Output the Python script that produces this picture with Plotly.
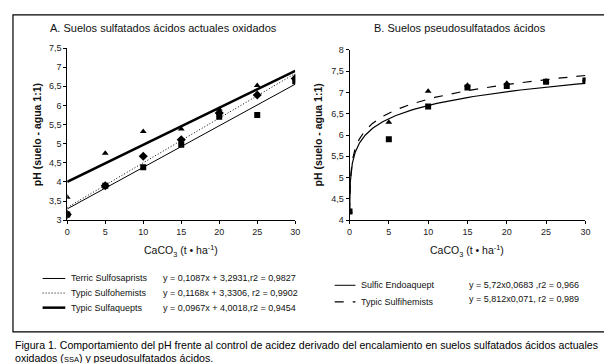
import numpy as np
import plotly.graph_objects as go

# ---------------- data ----------------
doses = [0, 5, 10, 15, 20, 25, 30]

# Panel A
terric_sulfosaprists = [3.15, 3.90, 4.38, 4.97, 5.70, 5.75, 6.63]
typic_sulfohemists_a = [3.15, 3.90, 4.67, 5.10, 5.80, 6.27, 6.70]
typic_sulfaquepts = [3.60, 4.75, 5.32, 5.38, 5.90, 6.52, 6.75]
# linear trend coefficients (slope, intercept) as printed in chart
fit_terric = [0.1087, 3.2931]
fit_sulfohemists = [0.1168, 3.3306]
fit_sulfaquepts = [0.0967, 4.0018]

# Panel B
sulfic_endoaquept = [4.20, 5.90, 6.67, 7.12, 7.15, 7.25, 7.28]
typic_sulfihemists_b = [4.20, 6.30, 7.03, 7.17, 7.22, 7.27, 7.30]
# power trend coefficients (a, b) y = a*x^b
fit_endoaquept = [5.72, 0.0683]
fit_sulfihemists = [5.812, 0.071]

ticks_a = [3, 3.5, 4, 4.5, 5, 5.5, 6, 6.5, 7, 7.5]
ticks_b = [4, 4.5, 5, 5.5, 6, 6.5, 7, 7.5, 8]
ticks_x = [0, 5, 10, 15, 20, 25, 30]

title_a = "A. Suelos sulfatados ácidos actuales oxidados"
title_b = "B. Suelos pseudosulfatados ácidos"
y_title = "<b>pH (suelo - agua 1:1)</b>"
x_title = "CaCO<sub>3</sub> (t • ha<sup>-1</sup>)"
legend_a = [("Terric Sulfosaprists", "y = 0,1087x + 3,2931,r2 = 0,9827"),
            ("Typic Sulfohemists", "y = 0,1168x + 3,3306, r2 = 0,9902"),
            ("Typic Sulfaquepts", "y = 0,0967x + 4,0018,r2 = 0,9454")]
legend_b = [("Sulfic Endoaquept", "y = 5,72x0,0683 ,r2 = 0,966"),
            ("Typic Sulfihemists", "y = 5,812x0,071, r2 = 0,989")]
caption1 = ("Figura 1. Comportamiento del pH frente al control de acidez derivado del "
            "encalamiento en suelos sulfatados ácidos actuales")
caption2 = "oxidados (<span style='font-size:7.5px'>SSA</span>) y pseudosulfatados ácidos."

# ---------------- figure ----------------
W, H = 612, 363
def px(x):
    return x / W
def py(y):
    return 1 - y / H

fig = go.Figure()
FONT = "Liberation Sans, Arial, sans-serif"
DOT = "1px,2px"

# Panel A trends
xl = np.array([0, 30])
fig.add_trace(go.Scatter(x=xl, y=fit_terric[0] * xl + fit_terric[1], mode="lines",
                         line=dict(color="black", width=1), xaxis="x", yaxis="y"))
fig.add_trace(go.Scatter(x=xl, y=fit_sulfohemists[0] * xl + fit_sulfohemists[1], mode="lines",
                         line=dict(color="black", width=1, dash=DOT), xaxis="x", yaxis="y"))
fig.add_trace(go.Scatter(x=xl, y=fit_sulfaquepts[0] * xl + fit_sulfaquepts[1], mode="lines",
                         line=dict(color="black", width=2.5), xaxis="x", yaxis="y"))
# Panel A points
fig.add_trace(go.Scatter(x=doses, y=terric_sulfosaprists, mode="markers",
                         marker=dict(symbol="square", size=6, color="black"), xaxis="x", yaxis="y"))
fig.add_trace(go.Scatter(x=doses, y=typic_sulfohemists_a, mode="markers",
                         marker=dict(symbol="diamond", size=7, color="black"), xaxis="x", yaxis="y"))
fig.add_trace(go.Scatter(x=doses, y=typic_sulfaquepts, mode="markers",
                         marker=dict(symbol="triangle-up", size=6, color="black"), xaxis="x", yaxis="y"))

# Panel B trends
xc = np.geomspace(0.01, 30, 200)
fig.add_trace(go.Scatter(x=xc, y=fit_endoaquept[0] * xc ** fit_endoaquept[1], mode="lines",
                         line=dict(color="black", width=1.2), xaxis="x2", yaxis="y2"))
fig.add_trace(go.Scatter(x=xc, y=fit_sulfihemists[0] * xc ** fit_sulfihemists[1], mode="lines",
                         line=dict(color="black", width=1.2, dash="dash"), xaxis="x2", yaxis="y2"))
fig.add_trace(go.Scatter(x=doses, y=typic_sulfihemists_b, mode="markers",
                         marker=dict(symbol="triangle-up", size=6, color="black"), xaxis="x2", yaxis="y2"))
fig.add_trace(go.Scatter(x=doses, y=sulfic_endoaquept, mode="markers",
                         marker=dict(symbol="square", size=6, color="black"), xaxis="x2", yaxis="y2"))

axis_common = dict(showgrid=False, zeroline=False, showline=True, linecolor="black", linewidth=1,
                   ticks="outside", ticklen=3, tickcolor="black", tickwidth=1,
                   tickfont=dict(family=FONT, size=9, color="#222"))

fig.update_layout(
    width=W, height=H, margin=dict(l=0, r=0, t=0, b=0),
    paper_bgcolor="white", plot_bgcolor="white", showlegend=False,
    separators=", ",
    xaxis=dict(domain=[px(57), px(288)], range=[0, 30], tickvals=ticks_x, anchor="y", **axis_common),
    yaxis=dict(domain=[py(213), py(36)], range=[3, 7.5], tickvals=ticks_a, anchor="x", **axis_common),
    xaxis2=dict(domain=[px(343), px(582)], range=[0, 30], tickvals=ticks_x, anchor="y2", **axis_common),
    yaxis2=dict(domain=[py(213), py(38)], range=[4, 8], tickvals=ticks_b, anchor="x2", **axis_common),
)

ann = []
def text(x, y, s, size=10, xanchor="left", angle=0, family=FONT, color="#111"):
    ann.append(dict(x=px(x), y=py(y), xref="paper", yref="paper", text=s, showarrow=False,
                    xanchor=xanchor, yanchor="middle", textangle=angle,
                    font=dict(family=family, size=size, color=color)))

text(155, 15, title_a, size=11, xanchor="center")
text(455, 15, title_b, size=11, xanchor="center")
text(26, 125, y_title, size=10.5, xanchor="center", angle=-90)
text(311, 125, y_title, size=10.5, xanchor="center", angle=-90)
text(172, 245, x_title, size=10.5, xanchor="center")
text(462, 245, x_title, size=10.5, xanchor="center")

shapes = []
styles_a = [dict(width=1), dict(width=1, dash=DOT), dict(width=2.5)]
for i, (name, eq) in enumerate(legend_a):
    yy = 273 + 15 * i
    shapes.append(dict(type="line", xref="paper", yref="paper", x0=px(32), x1=px(55), y0=py(yy), y1=py(yy),
                       line=dict(color="black", **styles_a[i])))
    text(59, yy, name, size=9)
    text(152, yy, eq, size=9)

styles_b = [dict(width=1), dict(width=1.2, dash="dash")]
rows_b = [280, 297]
eq_rows_b = [280, 294]
for i, (name, eq) in enumerate(legend_b):
    yy = rows_b[i]
    shapes.append(dict(type="line", xref="paper", yref="paper", x0=px(328), x1=px(349), y0=py(yy), y1=py(yy),
                       line=dict(color="black", **styles_b[i])))
    text(353, yy, name, size=9)
    text(462, eq_rows_b[i], eq, size=9)

# outer frame
shapes.append(dict(type="rect", xref="paper", yref="paper", x0=px(2), x1=px(606), y0=py(328), y1=py(2),
                   line=dict(color="black", width=1.2), fillcolor="rgba(0,0,0,0)"))

CAP = "Liberation Sans, Arial, sans-serif"
text(2, 341, caption1, size=10.6, family=CAP, color="#000")
text(2, 355, caption2, size=10.6, family=CAP, color="#000")

fig.update_layout(annotations=ann, shapes=shapes)
fig.write_html("out.html")
